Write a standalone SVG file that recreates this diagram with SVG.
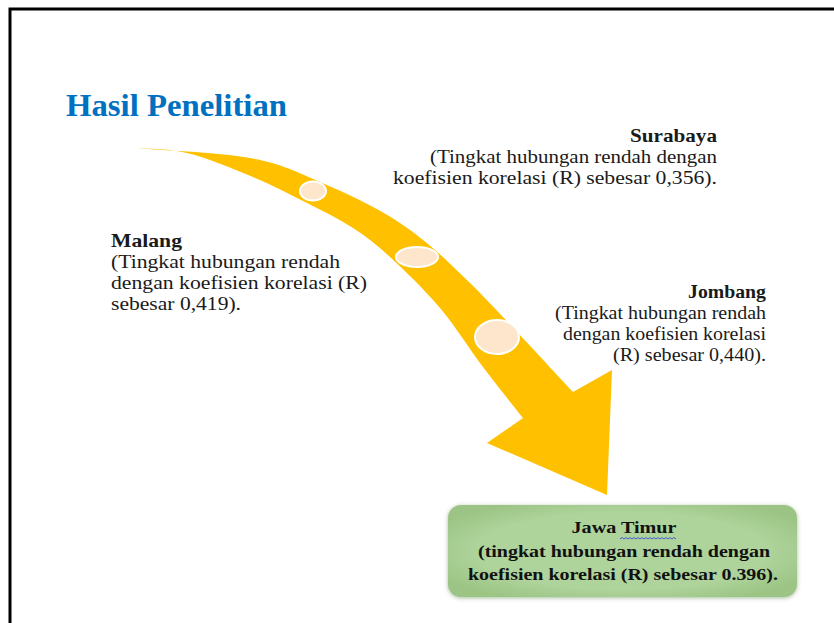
<svg xmlns="http://www.w3.org/2000/svg" width="834" height="623" viewBox="0 0 834 623">
<style>
.t{font-family:"Liberation Serif","Times New Roman",serif;font-size:19.5px;fill:#1a1a1a}
.b{font-weight:bold}
.r{text-anchor:end}
.bx{font-family:"Liberation Serif","Times New Roman",serif;font-size:17.5px;font-weight:bold;fill:#111;text-anchor:middle}
.dot{fill:#FDE6CC;stroke:#ffffff;stroke-width:2}
</style>
<defs>
<filter id="sh" x="-10%" y="-20%" width="120%" height="140%">
<feGaussianBlur in="SourceAlpha" stdDeviation="2"/>
<feOffset dx="0" dy="1" result="o"/>
<feFlood flood-color="#6f8f5c" flood-opacity="0.6"/>
<feComposite in2="o" operator="in"/>
<feMerge><feMergeNode/><feMergeNode in="SourceGraphic"/></feMerge>
</filter>
<radialGradient id="gg" cx="50%" cy="50%" r="60%">
<stop offset="0.7" stop-color="#AED39B"/>
<stop offset="1" stop-color="#9CC585"/>
</radialGradient>
</defs>
<rect width="834" height="623" fill="#ffffff"/>
<rect x="10" y="9" width="900" height="700" fill="none" stroke="#000" stroke-width="3"/>
<text id="title" x="66" y="116" font-family="Liberation Serif, Times New Roman, serif" font-size="32" font-weight="bold" fill="#0070C0" textLength="221" lengthAdjust="spacingAndGlyphs">Hasil Penelitian</text>
<g id="connectors">
<path id="arrow" fill="#FFC000" d="M133,148 C152.5,149.7 218.8,152.3 250,158 C281.2,163.7 295,171.2 320,182 C345,192.8 375,206.2 400,223 C425,239.8 441.2,254.8 470,283 C498.8,311.2 555.8,373.8 573,392 L612,370 L607,495 L487,443 L523,418 C516.3,409.5 496.8,385.3 483,367 C469.2,348.7 455.5,326.3 440,308 C424.5,289.7 404.5,270.3 390,257 C375.5,243.7 366.8,237 353,228 C339.2,219 323.7,211.5 307,203 C290.3,194.5 273,185.3 253,177 C233,168.7 207,157.8 187,153 C167,148.2 142,148.8 133,148 Z"/>
<ellipse class="dot" cx="313" cy="191" rx="13" ry="9.5"/>
<ellipse class="dot" cx="417" cy="257" rx="21" ry="10"/>
<ellipse class="dot" cx="497" cy="337" rx="22" ry="17"/>
</g>
<g id="surabaya">
<text class="t b r" x="717" y="142" textLength="87" lengthAdjust="spacingAndGlyphs">Surabaya</text>
<text class="t r" x="717" y="163" textLength="287" lengthAdjust="spacingAndGlyphs">(Tingkat hubungan rendah dengan</text>
<text class="t r" x="717" y="184" textLength="324" lengthAdjust="spacingAndGlyphs">koefisien korelasi (R) sebesar 0,356).</text>
</g>
<g id="malang">
<text class="t b" x="111" y="247" textLength="71" lengthAdjust="spacingAndGlyphs">Malang</text>
<text class="t" x="111" y="268" textLength="229" lengthAdjust="spacingAndGlyphs">(Tingkat hubungan rendah</text>
<text class="t" x="111" y="289" textLength="256" lengthAdjust="spacingAndGlyphs">dengan koefisien korelasi (R)</text>
<text class="t" x="111" y="310" textLength="130" lengthAdjust="spacingAndGlyphs">sebesar 0,419).</text>
</g>
<g id="jombang">
<text class="t b r" x="766" y="298" textLength="78" lengthAdjust="spacingAndGlyphs">Jombang</text>
<text class="t r" x="766" y="319" textLength="211" lengthAdjust="spacingAndGlyphs">(Tingkat hubungan rendah</text>
<text class="t r" x="766" y="340" textLength="203" lengthAdjust="spacingAndGlyphs">dengan koefisien korelasi</text>
<text class="t r" x="766" y="361" textLength="153" lengthAdjust="spacingAndGlyphs">(R) sebesar 0,440).</text>
</g>
<g id="jawa-timur">
<rect x="448" y="505" width="349" height="92" rx="13" fill="url(#gg)" filter="url(#sh)"/>
<text class="bx" x="624" y="533" textLength="105" lengthAdjust="spacingAndGlyphs">Jawa Timur</text>
<path d="M620,539 l2,-1.5 l2,1.5 l2,-1.5 l2,1.5 l2,-1.5 l2,1.5 l2,-1.5 l2,1.5 l2,-1.5 l2,1.5 l2,-1.5 l2,1.5 l2,-1.5 l2,1.5 l2,-1.5 l2,1.5 l2,-1.5 l2,1.5 l2,-1.5 l2,1.5 l2,-1.5 l2,1.5 l2,-1.5 l2,1.5 l2,-1.5 l2,1.5 l2,-1.5 l2,1.5" fill="none" stroke="#3a4fd8" stroke-width="0.9"/>
<text class="bx" x="624" y="557" textLength="292" lengthAdjust="spacingAndGlyphs">(tingkat hubungan rendah dengan</text>
<text class="bx" x="623" y="580" textLength="310" lengthAdjust="spacingAndGlyphs">koefisien korelasi (R) sebesar 0.396).</text>
</g>
</svg>
